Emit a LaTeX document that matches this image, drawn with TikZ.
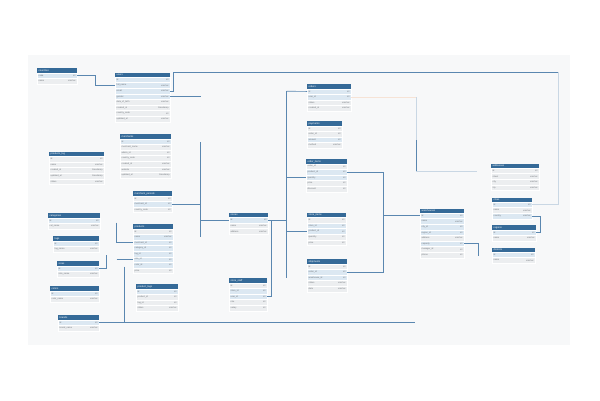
\documentclass[tikz,border=0pt]{standalone}
\usepackage{fontspec}
\setmainfont{Liberation Sans}
\usetikzlibrary{calc}
\definecolor{hdr}{HTML}{356A98}
\definecolor{rowc0}{HTML}{ECEEF0}
\definecolor{rowc1}{HTML}{DCE8F2}
\definecolor{lnc}{HTML}{5A87B0}
\definecolor{lnf}{HTML}{C9D7E4}
\definecolor{lno}{HTML}{F6E3D6}
\definecolor{bgc}{HTML}{F7F8F9}
\definecolor{txc}{HTML}{6E7378}
\tikzset{
  hdrbox/.style={fill=hdr, draw=none, minimum height=4.5pt, inner sep=0pt, anchor=north west},
  hdrtxt/.style={text=white, font=\fontsize{2.5}{3}\selectfont, inner sep=0pt, anchor=west},
  rowbox/.style={draw=white, line width=0.2pt, minimum height=5.6pt, inner sep=0pt, anchor=north west},
  ltxt/.style={text=txc, font=\fontsize{2.2}{2.6}\selectfont, inner sep=0pt, anchor=west},
  rtxt/.style={text=txc, font=\fontsize{2.2}{2.6}\selectfont, inner sep=0pt, anchor=east},
  conn/.style={draw=lnc, line width=0.7pt},
  connf/.style={draw=lnf, line width=0.6pt},
  conno/.style={draw=lno, line width=0.6pt}
}
\newcommand{\dbtable}[6]{%
  \node[hdrbox, minimum width=#4pt] (#1) at (#2,#3) {};
  \node[hdrtxt] at ([xshift=1.5pt]#1.west) {#5};
  \foreach \l/\r/\h [count=\i] in {#6} {
    \node[rowbox, fill=rowc\h, minimum width=#4pt] (#1-\i) at (#2,#3+4.5+5.6*\i-5.6) {};
    \node[ltxt] at ([xshift=1.5pt]#1-\i.west) {\l};
    \node[rtxt] at ([xshift=-1.5pt]#1-\i.east) {\r};
  }%
}
\begin{document}
\begin{tikzpicture}[x=1pt, y=-1pt]
\useasboundingbox (0,0) rectangle (600,400);
\fill[bgc] (28,55) rectangle (570,345);

% ---- tables ----
\dbtable{A}{37}{68}{40}{countries}{code/int/1, name/varchar/0}
\dbtable{B}{115}{72.3}{55}{users}{id/int/1, full\_name/varchar/1, email/varchar/1, gender/varchar/1, date\_of\_birth/varchar/0, created\_at/timestamp/0, country\_code/int/0, updated\_at/varchar/0}
\dbtable{C}{120}{134}{51}{merchants}{id/int/1, merchant\_name/varchar/0, admin\_id/int/0, country\_code/int/0, created\_at/varchar/0, website/varchar/0, updated\_at/timestamp/0}
\dbtable{D}{49}{151.7}{55}{products\_log}{id/int/0, name/varchar/0, created\_at/timestamp/0, updated\_at/timestamp/0, status/varchar/0}
\dbtable{E}{133}{191}{39}{merchant\_periods}{id/int/0, merchant\_id/int/1, country\_code/int/0}
\dbtable{F}{48}{213}{52}{categories}{id/int/1, cat\_name/varchar/0}
\dbtable{G}{53}{236}{46}{tags}{id/int/1, tag\_name/varchar/0}
\dbtable{H}{57}{261}{42}{sizes}{id/int/1, size\_name/varchar/0}
\dbtable{I}{50}{286}{49}{colors}{id/int/1, color\_name/varchar/0}
\dbtable{J}{58}{315}{41}{brands}{id/int/1, brand\_name/varchar/0}
\dbtable{K}{133}{224}{40}{products}{id/int/0, name/varchar/1, merchant\_id/int/1, category\_id/int/1, tag\_id/int/1, size\_id/int/1, color\_id/int/1, price/int/0}
\dbtable{L}{136}{284}{42}{product\_tags}{id/int/1, product\_id/int/0, tag\_id/int/0, status/varchar/0}
\dbtable{M}{307}{84}{44}{orders}{id/int/1, user\_id/int/1, status/varchar/0, created\_at/varchar/0}
\dbtable{N}{307}{121}{35}{payments}{id/int/0, order\_id/int/0, amount/int/1, method/varchar/0}
\dbtable{O}{306}{159}{41}{order\_items}{order\_id/int/0, product\_id/int/1, quantity/int/1, price/int/0, discount/int/0}
\dbtable{P}{229}{212.7}{39}{stores}{id/int/1, name/varchar/0, address/varchar/0}
\dbtable{Q}{307}{212.7}{39}{store\_items}{id/int/0, store\_id/int/1, product\_id/int/1, quantity/int/0, price/int/0}
\dbtable{R}{307}{259}{40}{shipments}{id/int/0, order\_id/int/1, warehouse\_id/int/1, status/varchar/0, date/varchar/0}
\dbtable{S}{229}{278}{38}{store\_staff}{id/int/0, store\_id/int/1, user\_id/int/1, role/int/0, salary/int/0}
\dbtable{T}{491}{163.3}{48}{addresses}{id/int/0, street/varchar/0, city/varchar/0, zip/varchar/0}
\dbtable{U}{492}{197.3}{40}{cities}{id/int/1, name/varchar/0, country/varchar/1}
\dbtable{V}{492}{225}{44}{regions}{id/int/1, name/varchar/0}
\dbtable{W}{492}{247.3}{43}{districts}{id/int/1, name/varchar/0}
\dbtable{X}{420}{208.3}{44}{warehouses}{id/int/1, name/varchar/1, city\_id/int/1, region\_id/int/1, address/varchar/0, capacity/int/1, manager\_id/int/0, phone/int/0}

% ---- helper coordinates ----
\coordinate (topR) at (558.3,72.3);
\coordinate (v1t) at (200.5,142.3);
\coordinate (v1b) at (200.5,236.7);
\coordinate (v2t) at (286.7,91.3);
\coordinate (v2b) at (286.7,278);
\coordinate (v3) at (271.7,0);
\coordinate (v4) at (383.3,0);
\coordinate (v5t) at (416,97);
\coordinate (v5m) at (416,140);
\coordinate (v5b) at (416,171);
\coordinate (v5e) at (477,171);
\coordinate (v6) at (478.3,256);
\coordinate (v7) at (540.7,0);
\coordinate (jend) at (415,0);
\coordinate (v8t) at (124.3,266.7);
\coordinate (v9t) at (116.7,222.7);
\coordinate (hend) at (106,255);

% ---- connectors ----
\draw[conn] (A-1.east) -- ++(18,0) |- (B-2.west);
\draw[conn] (B-3.east) -- ++(3.3,0) |- (topR);
\draw[connf] (topR) |- (U-1.east);
\draw[conn] (B-4.east) -- (B-4.east -| v1t);
\draw[conn] (v1t) -- (v1b);
\draw[conn] (E-2.east) -- (E-2.east -| v1t);
\draw[conn] (P-1.west -| v1t) -- (P-1.west);
\draw[conn] (P-1.east) -- (P-1.east -| v2t);
\draw[conn] (v2t) -- (v2b);
\draw[conn] (v2t) -- (M-1.west);
\draw[conn] (O-3.west -| v2t) -- (O-3.west);
\draw[conn] (Q-3.west -| v2t) -- (Q-3.west);
\draw[conn] (P-1.east -| v3) |- (S-3.east);
\draw[conn] (O-2.east) -| (v4 |- R-2.east) -- (R-2.east);
\draw[conn] (X-1.west -| v4) -- (X-1.west);
\draw[conno] (M-2.east) -- (v5t);
\draw[connf] (v5t) -- (v5m);
\draw[conn] (v5m) -- (v5b);
\draw[connf] (v5b) -- (v5e);
\draw[conn] (X-6.east) -| (v6);
\draw[conn] (U-3.east) -| (v7 |- V-1.east) -- (V-1.east);
\draw[conn] (J-1.east) -- (J-1.east -| jend);
\draw[conn] (v8t) -- (v8t |- J-1.east);
\draw[conn] (v9t) |- (K-3.west);
\draw[conn] (K-6.west -| v9t) -- (K-6.west);
\draw[conn] (H-1.east) -| (hend);
\end{tikzpicture}
\end{document}
